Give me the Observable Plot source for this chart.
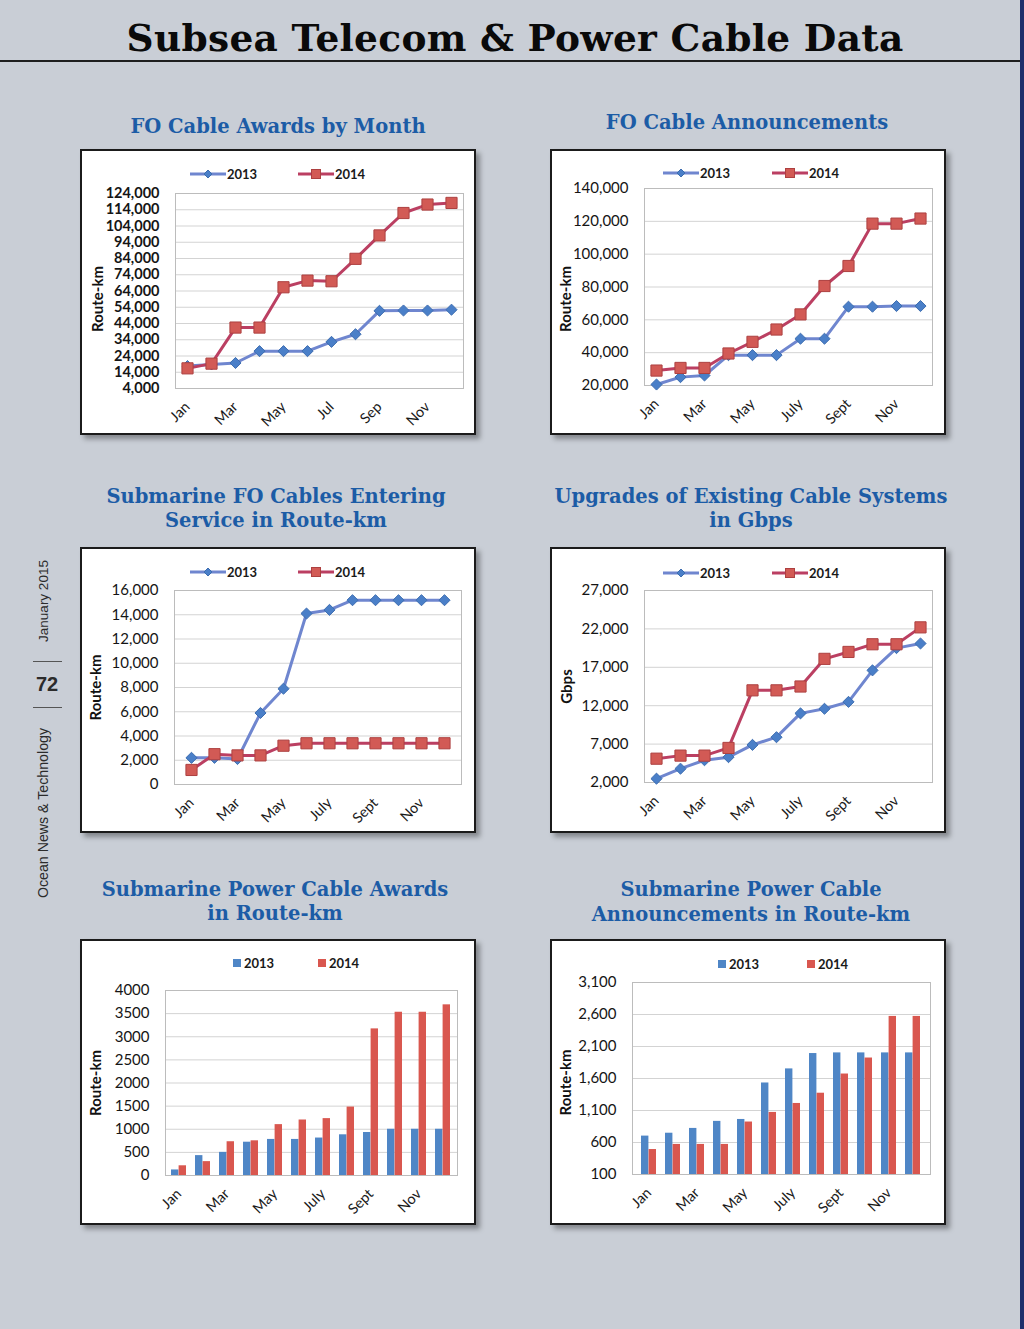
<!DOCTYPE html>
<html>
<head>
<meta charset="utf-8">
<script src="https://cdn.jsdelivr.net/npm/d3@7"></script>
<script src="https://cdn.jsdelivr.net/npm/@observablehq/plot@0.6"></script>
<style>
  html, body { margin: 0; padding: 0; background: #c9ced6; }
  #page { position: relative; width: 1024px; height: 1329px; overflow: hidden; background: #c9ced6; font-family: Lato, "Open Sans", sans-serif; }
  .main-title { position: absolute; left: 0; top: 16px; width: 1030px; text-align: center; font: bold 37.5px "DejaVu Serif", serif; color: #0a0a0a; letter-spacing: 0.3px; }
  .rule { position: absolute; left: 0; top: 60px; width: 1021px; height: 2px; background: #1e1e1e; }
  .strip { position: absolute; left: 1020px; top: 0; width: 4px; height: 1329px; background: #1d2f6b; }
  .ctitle { position: absolute; width: 460px; text-align: center; font: bold 19.5px "DejaVu Serif", serif; color: #1c5ca6; line-height: 24px; }
  .box { position: absolute; width: 396px; height: 286px; box-sizing: border-box; border: 2px solid #1b1b1b; background: #fff; box-shadow: 4px 4px 5px rgba(0,0,0,0.35); }
  .legend { position: relative; height: 30px; }
  .litem { position: absolute; display: flex; align-items: center; font: bold 13px Lato, sans-serif; color: #1a1a1a; height: 14px; }
  .litem svg { display: block; }
  .box > svg { display: block; overflow: visible; }
  .side { position: absolute; font-family: "Liberation Sans", Arial, sans-serif; color: #2b2b2b; white-space: nowrap; }
  .sep { position: absolute; left: 33px; width: 29px; height: 1px; background: #555; }
</style>
</head>
<body>
<div id="page">
  <div class="main-title">Subsea Telecom &amp; Power Cable Data</div>
  <div class="rule"></div>
  <div class="strip"></div>
</div>
<script>
// ---------- data ----------
const months = ["Jan","Feb","Mar","Apr","May","Jun","Jul","Aug","Sep","Oct","Nov","Dec"];
const tickMonths = ["Jan","Mar","May","Jul","Sep","Nov"];
const tickLabelsShort = ["Jan","Mar","May","Jul","Sep","Nov"];
const tickLabelsLong = ["Jan","Mar","May","July","Sept","Nov"];
const seriesNames = ["2013","2014"];

// FO Cable Awards by Month (Route-km)
const foAwards2013 = [17800,18800,19700,27000,27000,27000,32700,37400,51800,52000,52000,52500];
const foAwards2014 = [16400,19300,41500,41500,66300,70400,70000,83800,98200,112000,117200,118200];
const foAwardsTicks = [4000,14000,24000,34000,44000,54000,64000,74000,84000,94000,104000,114000,124000];

// FO Cable Announcements (Route-km)
const foAnn2013 = [20600,25100,26100,38500,38500,38500,48500,48500,68000,68000,68400,68400];
const foAnn2014 = [29100,30700,30700,39500,46600,54100,63300,80600,92800,118600,118600,121700];
const foAnnTicks = [20000,40000,60000,80000,100000,120000,140000];

// Submarine FO Cables Entering Service (Route-km)
const service2013 = [2200,2200,2100,5900,7900,14100,14400,15200,15200,15200,15200,15200];
const service2014 = [1200,2500,2400,2400,3200,3400,3400,3400,3400,3400,3400,3400];
const serviceTicks = [0,2000,4000,6000,8000,10000,12000,14000,16000];

// Upgrades of Existing Cable Systems (Gbps)
const upgrades2013 = [2500,3800,4900,5300,6900,7900,11000,11600,12500,16600,19500,20100];
const upgrades2014 = [5100,5500,5500,6500,14000,14000,14500,18100,19000,20000,20000,22200];
const upgradesTicks = [2000,7000,12000,17000,22000,27000];

// Submarine Power Cable Awards (Route-km)
const powerAwards2013 = [120,430,500,720,780,780,810,880,930,1000,1000,1000];
const powerAwards2014 = [210,300,730,750,1100,1200,1230,1480,3170,3530,3530,3690];
const powerAwardsTicks = [0,500,1000,1500,2000,2500,3000,3500,4000];

// Submarine Power Cable Announcements (Route-km)
const powerAnn2013 = [700,745,820,930,960,1530,1750,1990,2000,2000,2000,2000];
const powerAnn2014 = [490,570,570,570,920,1070,1210,1370,1670,1920,2570,2570];
const powerAnnTicks = [100,600,1100,1600,2100,2600,3100];

// ---------- styles ----------
const C13_LINE = "#6f86cf", C13_MARK = "#4a7fc8", C13_MARK_S = "#3d6db0";
const C14_LINE = "#bb3f62", C14_MARK = "#d25a55", C14_MARK_S = "#ad4040";
const BAR13 = "#4f86c6", BAR14 = "#d9574f";

const charts = [
  {title:["FO Cable Awards by Month"], tcx:278, tcy:[127], box:[80,149], plot:[175,463,193,388],
   kind:"line", s13:foAwards2013, s14:foAwards2014, ticks:foAwardsTicks, fmt:d3.format(","),
   label:"Route-km", labelX:98, labelDy:8, tickLabels:tickLabelsShort, legend:[190,298,174], tickWeight:"bold", tickSize:14.5},
  {title:["FO Cable Announcements"], tcx:747, tcy:[123], box:[550,149], plot:[644,932,188,385],
   kind:"line", s13:foAnn2013, s14:foAnn2014, ticks:foAnnTicks, fmt:d3.format(","),
   label:"Route-km", labelX:566, labelDy:12, tickLabels:tickLabelsLong, legend:[663,772,173], tickWeight:"normal", tickSize:15},
  {title:["Submarine FO Cables Entering","Service in Route-km"], tcx:276, tcy:[497,521], box:[80,547], plot:[174,461,590,784],
   kind:"line", s13:service2013, s14:service2014, ticks:serviceTicks, fmt:d3.format(","),
   label:"Route-km", labelX:96, labelDy:0, tickLabels:tickLabelsLong, legend:[190,298,572], tickWeight:"normal", tickSize:15},
  {title:["Upgrades of Existing Cable Systems","in Gbps"], tcx:751, tcy:[497,521], box:[550,547], plot:[644,932,590,782],
   kind:"line", s13:upgrades2013, s14:upgrades2014, ticks:upgradesTicks, fmt:d3.format(","),
   label:"Gbps", labelX:567, labelDy:0, tickLabels:tickLabelsLong, legend:[663,772,573], tickWeight:"normal", tickSize:15},
  {title:["Submarine Power Cable Awards","in Route-km"], tcx:275, tcy:[890,914], box:[80,939], plot:[165,457,990,1175],
   kind:"bar", s13:powerAwards2013, s14:powerAwards2014, ticks:powerAwardsTicks, fmt:d3.format("d"),
   label:"Route-km", labelX:96, labelDy:0, tickLabels:tickLabelsLong, legend:[233,318,963], tickWeight:"normal", tickSize:15},
  {title:["Submarine Power Cable","Announcements in Route-km"], tcx:751, tcy:[890,915], box:[550,939], plot:[632,930,982,1174],
   kind:"bar", s13:powerAnn2013, s14:powerAnn2014, ticks:powerAnnTicks, fmt:d3.format(","),
   label:"Route-km", labelX:566, labelDy:4, tickLabels:tickLabelsLong, legend:[718,807,964], tickWeight:"normal", tickSize:15}
];

const page = document.getElementById("page");

function lineSwatch(kind, color, mark, markStroke) {
  const ns = "http://www.w3.org/2000/svg";
  const svg = document.createElementNS(ns, "svg");
  svg.setAttribute("width", 36); svg.setAttribute("height", 14);
  const ln = document.createElementNS(ns, "line");
  ln.setAttribute("x1", 0); ln.setAttribute("x2", 36); ln.setAttribute("y1", 7); ln.setAttribute("y2", 7);
  ln.setAttribute("stroke", color); ln.setAttribute("stroke-width", 3);
  svg.appendChild(ln);
  let m;
  if (kind === "diamond") {
    m = document.createElementNS(ns, "path");
    m.setAttribute("d", "M18,3L22,7L18,11L14,7Z");
  } else {
    m = document.createElementNS(ns, "rect");
    m.setAttribute("x", 13.5); m.setAttribute("y", 2.5); m.setAttribute("width", 9); m.setAttribute("height", 9);
  }
  m.setAttribute("fill", mark); m.setAttribute("stroke", markStroke);
  svg.appendChild(m);
  return svg;
}

function squareSwatch(color) {
  const s = document.createElement("span");
  s.style.cssText = `display:inline-block;width:8px;height:8px;background:${color};margin-right:3px;`;
  return s;
}

for (const c of charts) {
  c.title.forEach((t, i) => {
    const d = document.createElement("div");
    d.className = "ctitle";
    d.textContent = t;
    d.style.left = (c.tcx - 230) + "px";
    d.style.top = (c.tcy[i] - 12) + "px";
    page.appendChild(d);
  });

  const box = document.createElement("div");
  box.className = "box";
  box.style.left = c.box[0] + "px";
  box.style.top = c.box[1] + "px";
  page.appendChild(box);

  const leg = document.createElement("div");
  leg.className = "legend";
  box.appendChild(leg);
  const ix = c.box[0] + 2, iy = c.box[1] + 2;
  seriesNames.forEach((name, i) => {
    const it = document.createElement("div");
    it.className = "litem";
    it.style.left = (c.legend[i] - ix) + "px";
    it.style.top = (c.legend[2] - iy - 7) + "px";
    if (c.kind === "line") {
      it.appendChild(i === 0 ? lineSwatch("diamond", C13_LINE, C13_MARK, C13_MARK_S)
                             : lineSwatch("square", C14_LINE, C14_MARK, C14_MARK_S));
    } else {
      it.appendChild(squareSwatch(i === 0 ? BAR13 : BAR14));
    }
    const tx = document.createElement("span");
    tx.textContent = name;
    tx.style.marginLeft = c.kind === "line" ? "1px" : "0";
    it.appendChild(tx);
    leg.appendChild(it);
  });

  const W = 392, H = 252;
  const svgLeft = c.box[0] + 2, svgTop = c.box[1] + 32;
  const [L, R, T, B] = c.plot;
  const mL = L - svgLeft, mR = svgLeft + W - R, mT = T - svgTop, mB = svgTop + H - B;
  const rows = months.map((m, i) => ({month: m, v13: c.s13[i], v14: c.s14[i]}));
  const labelOf = new Map(tickMonths.map((m, i) => [m, c.tickLabels[i]]));
  const yMin = c.ticks[0], yMax = c.ticks[c.ticks.length - 1];

  const marks = [
    Plot.gridY(c.ticks, {stroke: "#d3d3d3", strokeOpacity: 1}),
    Plot.frame({stroke: "#bcbcbc"}),
    Plot.axisY({ticks: c.ticks, tickFormat: c.fmt, tickSize: 0, tickPadding: 16, fontSize: c.tickSize, fontWeight: c.tickWeight, fill: "#151515", label: null}),
    Plot.axisX({ticks: tickMonths, tickFormat: d => labelOf.get(d), tickRotate: -45, tickSize: 0, tickPadding: 16, fontSize: 14.5, fill: "#1a1a1a", label: null}),
    Plot.text([c.label], {frameAnchor: "left", text: d => d, rotate: -90, dx: c.labelX - L, dy: c.labelDy, fontWeight: "bold", fontSize: 15, fill: "#111", textAnchor: "middle", lineAnchor: "middle"})
  ];

  let xScale;
  if (c.kind === "line") {
    xScale = {type: "point", domain: months, padding: 0.5};
    marks.push(
      Plot.line(rows, {x: "month", y: "v13", stroke: C13_LINE, strokeWidth: 3}),
      Plot.line(rows, {x: "month", y: "v14", stroke: C14_LINE, strokeWidth: 3}),
      Plot.dot(rows, {x: "month", y: "v13", symbol: "diamond2", r: 5, fill: C13_MARK, stroke: C13_MARK_S, strokeWidth: 1}),
      Plot.dot(rows, {x: "month", y: "v14", symbol: "square", r: 6.3, fill: C14_MARK, stroke: C14_MARK_S, strokeWidth: 1})
    );
  } else {
    xScale = {type: "band", domain: months, paddingInner: 0.37, paddingOuter: 0.185};
    marks.push(
      Plot.barY(rows, {x: "month", y1: () => yMin, y2: "v13", fill: BAR13, insetRight: 7.6}),
      Plot.barY(rows, {x: "month", y1: () => yMin, y2: "v14", fill: BAR14, insetLeft: 7.6})
    );
  }

  const chart = Plot.plot({
    width: W, height: H,
    marginLeft: mL, marginRight: mR, marginTop: mT, marginBottom: mB,
    style: {fontFamily: "Lato, 'Open Sans', sans-serif", background: "#fff", overflow: "visible"},
    x: xScale,
    y: {domain: [yMin, yMax]},
    marks
  });
  box.appendChild(chart);
}

function side(text, cx, cy, size, weight, rotate) {
  const d = document.createElement("div");
  d.className = "side";
  d.textContent = text;
  d.style.fontSize = size + "px";
  d.style.fontWeight = weight;
  d.style.left = cx + "px";
  d.style.top = cy + "px";
  d.style.transform = `translate(-50%,-50%)${rotate ? " rotate(-90deg)" : ""}`;
  page.appendChild(d);
}
side("January 2015", 43, 601, 13.5, "normal", true);
side("72", 47, 684, 20, "bold", false);
side("Ocean News & Technology", 43, 813, 14.2, "normal", true);
[661, 707].forEach(y => {
  const s = document.createElement("div");
  s.className = "sep";
  s.style.top = y + "px";
  page.appendChild(s);
});
</script>
</body>
</html>
